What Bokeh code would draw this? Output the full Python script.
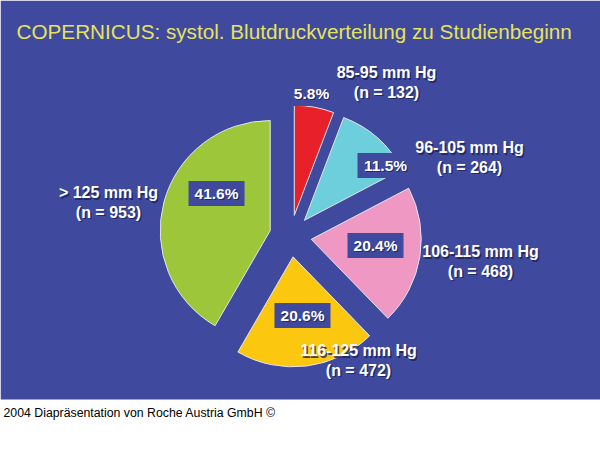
from math import pi, sin, cos
from bokeh.plotting import figure
from bokeh.models import Range1d
from bokeh.core.properties import value
from bokeh.embed import file_html
from bokeh.resources import INLINE

# data
ranges = ["85-95 mm Hg", "96-105 mm Hg", "106-115 mm Hg", "116-125 mm Hg", "> 125 mm Hg"]
counts = [132, 264, 468, 472, 953]
percents = [5.8, 11.5, 20.4, 20.6, 41.6]
colors = ["#e8202a", "#6dcfdc", "#ef98c4", "#fcc70f", "#9dc63b"]

TITLE = "COPERNICUS: systol. Blutdruckverteilung zu Studienbeginn"
FOOTER = "2004 Diapräsentation von Roche Austria GmbH ©"

BG = "#3f4a9f"
W, H = 600, 461          # reference picture size, coordinates below are in its pixels
CX, CY = 290, 235.5      # pie centre
RADIUS = 110
EXPLODE = 21

# label anchors (reference pixels)
PCT_POS = [(311, 93), (385, 165), (375, 245), (302, 315), (216, 193)]
CAT_POS = [(386, 72), (469, 147), (480, 251), (358, 350), (108, 192)]


def fy(y):
    return H - y


p = figure(width=600, height=461, output_backend="svg", toolbar_location=None,
           x_range=Range1d(0, W), y_range=Range1d(0, H),
           min_border=0, outline_line_color=None, background_fill_color="white",
           border_fill_color="white")
p.axis.visible = False
p.grid.visible = False

# blue slide area
p.quad(left=0, right=W, top=H, bottom=fy(399), fill_color=BG, line_color=None)

p.text(x=[16], y=[fy(31)], text=[TITLE], text_font=value("Liberation Sans"),
       text_font_size="20.7px", text_color="#e6e35a", text_baseline="middle")

# slices, clockwise from 12 o'clock
total = sum(percents)
acc = 0.0
for pct, col in zip(percents, colors):
    a1 = acc / total * 2 * pi
    acc += pct
    a2 = acc / total * 2 * pi
    mid = (a1 + a2) / 2
    x0 = CX + EXPLODE * sin(mid)
    y0 = fy(CY) + EXPLODE * cos(mid)
    p.wedge(x=[x0], y=[y0], radius=RADIUS,
            start_angle=pi / 2 - a2, end_angle=pi / 2 - a1,
            fill_color=col, line_color="#e4e4ee", line_width=1)

# percentage boxes
for pct, (lx, ly) in zip(percents, PCT_POS):
    p.rect(x=[lx], y=[fy(ly)], width=56, height=25, fill_color=BG, line_color=None)
    txt = f"{pct:.1f}%"
    p.text(x=[lx + 1.2], y=[fy(ly) - 1.2], text=[txt], text_font=value("Liberation Sans"),
           text_font_style="bold", text_font_size="15.5px", text_color="#1c2155",
           text_alpha=0.8, text_align="center", text_baseline="middle")
    p.text(x=[lx], y=[fy(ly)], text=[txt], text_font=value("Liberation Sans"),
           text_font_style="bold", text_font_size="15.5px", text_color="white",
           text_align="center", text_baseline="middle")

# category labels
for name, n, (lx, ly) in zip(ranges, counts, CAT_POS):
    for line, dy in ((name, 0), (f"(n = {n})", 19.5)):
        p.text(x=[lx + 1.5], y=[fy(ly + dy) - 1.5], text=[line], text_font=value("Liberation Sans"),
               text_font_style="bold", text_font_size="16px", text_color="#1c2155",
               text_alpha=0.8, text_align="center", text_baseline="middle")
        p.text(x=[lx], y=[fy(ly + dy)], text=[line], text_font=value("Liberation Sans"),
               text_font_style="bold", text_font_size="16px", text_color="white",
               text_align="center", text_baseline="middle")

p.text(x=[3], y=[fy(412)], text=[FOOTER], text_font=value("Liberation Sans"),
       text_font_size="12.3px", text_color="black", text_baseline="middle")

open("out.html", "w").write(file_html(p, INLINE))
